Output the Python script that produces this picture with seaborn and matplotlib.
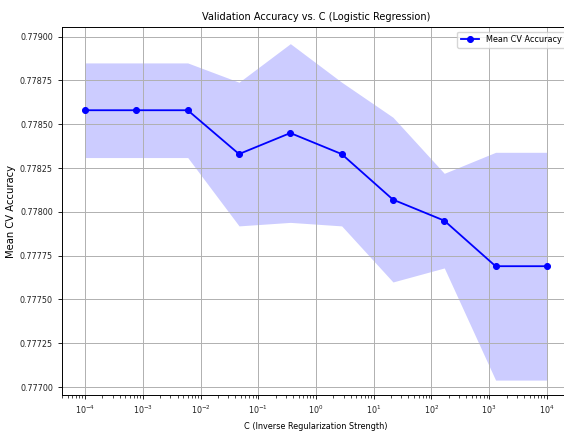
import matplotlib
matplotlib.use("Agg")
import matplotlib.pyplot as plt
import seaborn as sns
import pandas as pd

# Regularization grid and cross-validation results
c_values = [1.0e-4, 7.743e-4, 5.995e-3, 4.642e-2, 3.594e-1,
            2.783, 21.54, 166.8, 1291.5, 1.0e4]
mean_acc = [0.77858, 0.77858, 0.77858, 0.77833, 0.77845,
            0.77833, 0.77807, 0.77795, 0.77769, 0.77769]
std_acc = [0.00027, 0.00027, 0.00027, 0.00041, 0.00051,
           0.00041, 0.00047, 0.00027, 0.00065, 0.00065]

df = pd.DataFrame({"C": c_values, "mean": mean_acc, "std": std_acc})

label_fs = 6.5
tick_fs = 6.4
title_fs = 7.8
plt.rcParams["font.family"] = ["DejaVu Sans"]
plt.rcParams["font.stretch"] = "condensed"

fig = plt.figure(figsize=(5.64, 4.33), dpi=100)
ax = fig.add_axes([62 / 564, 38 / 433, 508 / 564, 368 / 433])

# mean ± one standard deviation across folds
ax.fill_between(df["C"], df["mean"] - df["std"], df["mean"] + df["std"],
                color="blue", alpha=0.2, linewidth=0)
sns.lineplot(data=df, x="C", y="mean", marker="o", color="blue",
             markersize=4.3, markeredgecolor="blue", linewidth=1.3,
             label="Mean CV Accuracy", ax=ax)

ax.set_xscale("log")
ax.margins(x=0.05)
ax.set_ylim(0.776955, 0.779055)
ax.set_yticks([0.77700, 0.77725, 0.77750, 0.77775, 0.77800,
               0.77825, 0.77850, 0.77875, 0.77900])
ax.yaxis.set_major_formatter(matplotlib.ticker.FormatStrFormatter("%.5f"))
ax.grid(True, which="major", color="#b0b0b0", linewidth=0.7)
ax.tick_params(labelsize=tick_fs, width=0.6, length=3, labelcolor="#222222")
ax.tick_params(which="minor", width=0.5, length=1.8)
for s in ax.spines.values():
    s.set_linewidth(0.7)

ax.set_title("Validation Accuracy vs. C (Logistic Regression)", fontsize=title_fs, pad=5)
ax.set_xlabel("C (Inverse Regularization Strength)", fontsize=label_fs, labelpad=4)
ax.set_ylabel("Mean CV Accuracy", fontsize=7.2, fontstretch="normal", labelpad=3)
ax.legend(loc="upper right", fontsize=label_fs, framealpha=0.8)

fig.savefig("out.png", dpi=100)
